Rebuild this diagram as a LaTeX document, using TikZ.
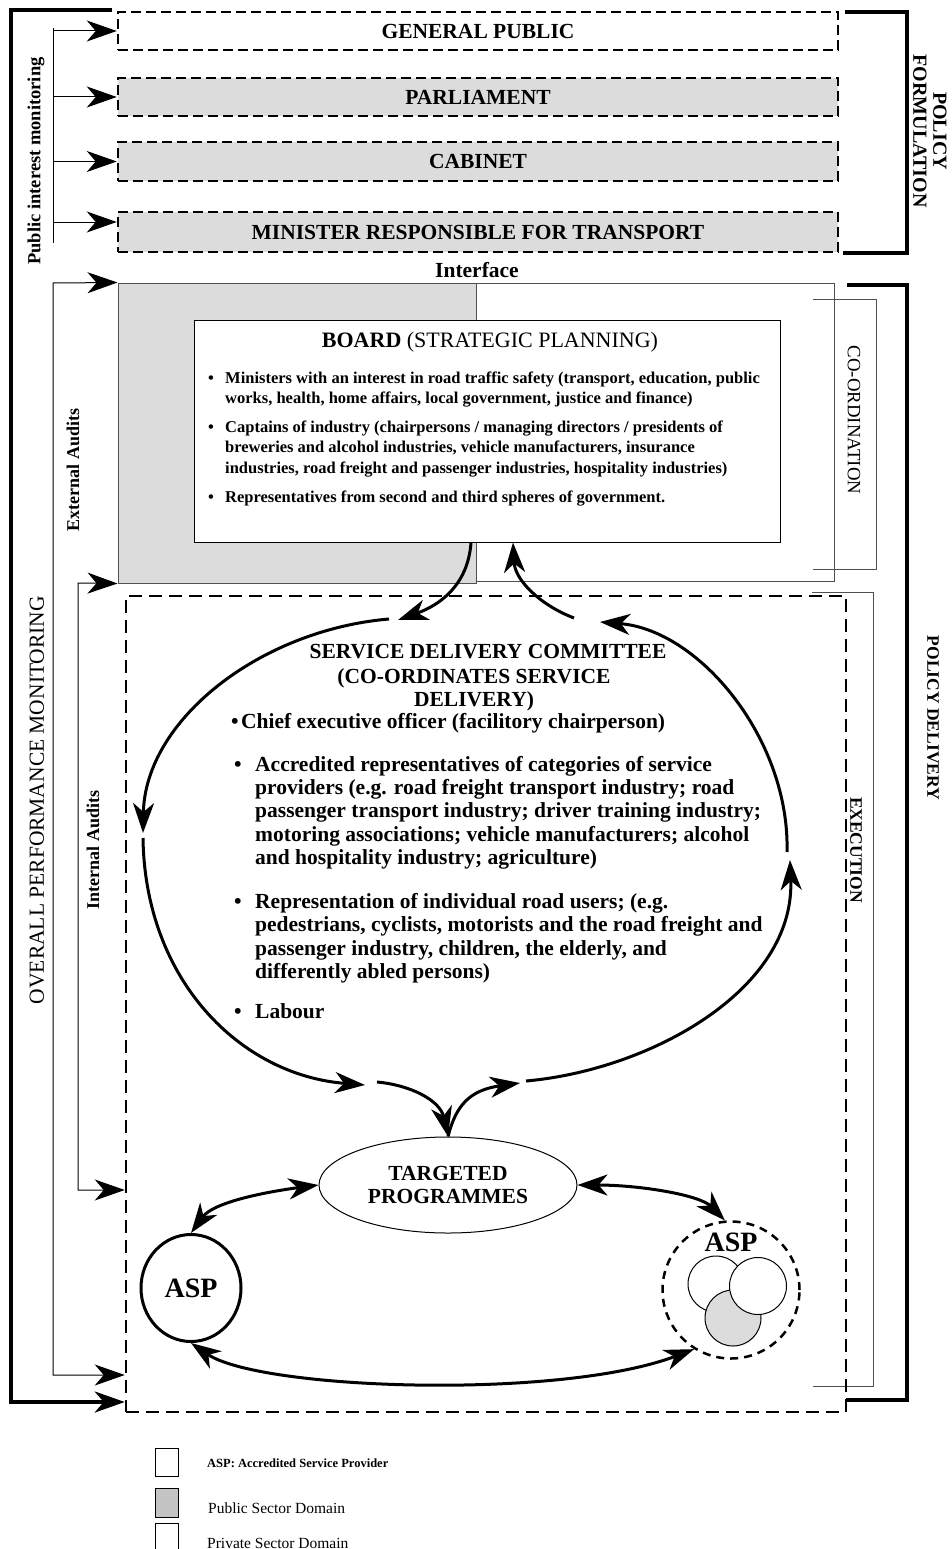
\documentclass[tikz,border=0pt]{standalone}
\usepackage{fontspec}
\setmainfont{Liberation Serif}
\usetikzlibrary{arrows.meta,shapes.geometric,calc}
\definecolor{lgray}{HTML}{DCDCDC}
\definecolor{mgray}{HTML}{C4C4C4}
\definecolor{edgegray}{HTML}{505050}
\newcommand\myfs[2]{\fontsize{#1}{#2}\selectfont}
\tikzset{
  Big/.tip={Stealth[length=30pt,width=21pt,inset=9pt]},
  thinln/.style={line width=1pt},
  heavyln/.style={line width=4pt},
  loopln/.style={line width=3pt},
  topbox/.style={draw, dash pattern=on 10pt off 5pt, line width=2.5pt, minimum width=720pt, inner sep=0pt, font=\myfs{21.5}{24}\bfseries},
  btx/.style={anchor=base west, inner sep=0pt, font=\myfs{16.5}{20}\bfseries},
  stx/.style={anchor=base west, inner sep=0pt, font=\myfs{21.5}{23}\bfseries},
  shd/.style={anchor=base, inner sep=0pt, font=\myfs{21.5}{23}\bfseries},
  vlbl/.style={inner sep=0pt, align=center},
  legbox/.style={draw, thinln, minimum width=23pt, inner sep=0pt},
}
\begin{document}
\begin{tikzpicture}[x=1pt,y=-1pt]
\useasboundingbox (0,0) rectangle (951,1549);
\fill[white] (0,0) rectangle (951,1549);

% ---------- policy formulation boxes ----------
\node[topbox, fill=white, minimum height=38pt] (gp) at (478,31) {GENERAL PUBLIC};
\node[topbox, fill=lgray, minimum height=38pt] (parl) at (478,97) {PARLIAMENT};
\node[topbox, fill=lgray, minimum height=39pt] (cab) at (478,161.5) {CABINET};
\node[topbox, fill=lgray, minimum height=40pt] (mini) at (478,232) {MINISTER RESPONSIBLE FOR TRANSPORT};

% public interest monitoring
\coordinate (pit) at (53,28);
\coordinate (pib) at (53,243);
\coordinate (minin) at ($(mini.west)+(0,-10)$);
\draw[thinln] (pit) -- (pib);
\foreach \n in {gp,parl,cab} \draw[thinln,-Big] (pit |- \n.west) -- (\n.west);
\draw[thinln,-Big] (pit |- minin) -- (minin);
\node[vlbl, rotate=90, font=\myfs{18.5}{20}\bfseries] (pim) at (36,161) {Public interest monitoring};

% policy formulation bracket
\draw[heavyln] (845,12) -- (907,12) -- (907,253) -- (843,253);
\node[vlbl, rotate=-90, font=\myfs{20}{20}\bfseries] (pf) at (930,131) {POLICY\\FORMULATION};

\node[inner sep=0pt, font=\myfs{21.5}{24}\bfseries] (iface) at (477,270) {Interface};

% ---------- strategic planning ----------
\node[draw=edgegray, thinln, fill=white, minimum width=359pt, minimum height=298pt, inner sep=0pt] (priv) at (654.5,432) {};
\node[draw=edgegray, thinln, fill=lgray, minimum width=358pt, minimum height=300pt, inner sep=0pt] (pub) at (297,433) {};
\node[draw=black, thinln, fill=white, minimum width=586pt, minimum height=222pt, inner sep=0pt] (board) at (487,431) {};

\node[anchor=base, inner sep=0pt, font=\myfs{22}{24}] (bhd) at (490,347) {\textbf{BOARD} (STRATEGIC PLANNING)};
\node[btx] (bb1) at (208,383) {•};
\node[btx] (bt1) at (225,383) {Ministers with an interest in road traffic safety (transport, education, public};
\node[btx] (bt2) at (225,403) {works, health, home affairs, local government, justice and finance)};
\node[btx] (bb2) at (208,432) {•};
\node[btx] (bt3) at (225,432) {Captains of industry (chairpersons / managing directors / presidents of};
\node[btx] (bt4) at (225,452) {breweries and alcohol industries, vehicle manufacturers, insurance};
\node[btx] (bt5) at (225,473) {industries, road freight and passenger industries, hospitality industries)};
\node[btx] (bb3) at (208,502) {•};
\node[btx] (bt6) at (225,502) {Representatives from second and third spheres of government.};

% co-ordination bracket
\draw[thinln, edgegray] (813,299) -- (876,299) -- (876,569) -- (813,569);
\node[vlbl, rotate=-90, font=\myfs{18.8}{20}] (coord) at (854,420) {CO-ORDINATION};

% policy delivery bracket
\draw[heavyln] (847,285) -- (907,285) -- (907,1400) -- (846,1400);
\node[vlbl, rotate=-90, font=\myfs{17.5}{20}\bfseries] (pdel) at (933,718) {POLICY DELIVERY};

% execution bracket
\draw[thinln, edgegray] (812,592) -- (873,592) -- (873,1386) -- (813,1386);
\node[vlbl, rotate=-90, font=\myfs{17.5}{20}\bfseries] (exec) at (856,850) {EXECUTION};

% ---------- service delivery ----------
\node[draw, dash pattern=on 13pt off 7pt, line width=2.5pt, minimum width=720pt, minimum height=816pt, inner sep=0pt] (sd) at (486,1004) {};

% left monitoring lines
\coordinate (yIA) at (0,1190);
\coordinate (yEA) at (0,1375);
\coordinate (yOP) at (0,1402);
\draw[heavyln,-Big] (112,10) -- (11,10) -- (11,1402) -- (sd.west |- yOP);
\draw[thinln,Big-Big] (pub.north west) -- (53,283) -- (53,1375) -- (sd.west |- yEA);
\draw[thinln,Big-Big] (pub.south west) -- (78,583) -- (78,1190) -- (sd.west |- yIA);
\node[vlbl, rotate=90, font=\myfs{18}{20}\bfseries] (ext) at (73,470) {External Audits};
\node[vlbl, rotate=90, font=\myfs{18}{20}\bfseries] (int) at (93,850) {Internal Audits};
\node[vlbl, rotate=90, font=\myfs{21.5}{22}] (opm) at (37,800) {OVERALL PERFORMANCE MONITORING};

% SDC text
\node[shd] (sh1) at (488,658) {SERVICE DELIVERY COMMITTEE};
\node[shd] (sh2) at (474,683) {(CO-ORDINATES SERVICE};
\node[shd] (sh3) at (474,706) {DELIVERY)};
\node[stx] (sb1) at (231,728) {•};
\node[stx] (s1) at (241,728) {Chief executive officer (facilitory chairperson)};
\node[stx] (sb2) at (234,771) {•};
\node[stx] (s2a) at (255,771) {Accredited representatives of categories of service};
\node[stx] (s2b) at (255,794) {providers (e.g. road freight transport industry; road};
\node[stx] (s2c) at (255,817) {passenger transport industry; driver training industry;};
\node[stx] (s2d) at (255,841) {motoring associations; vehicle manufacturers; alcohol};
\node[stx] (s2e) at (255,864) {and hospitality industry; agriculture)};
\node[stx] (sb3) at (234,908) {•};
\node[stx] (s3a) at (255,908) {Representation of individual road users; (e.g.};
\node[stx] (s3b) at (255,931) {pedestrians, cyclists, motorists and the road freight and};
\node[stx] (s3c) at (255,955) {passenger industry, children, the elderly, and};
\node[stx] (s3d) at (255,978) {differently abled persons)};
\node[stx] (sb4) at (234,1018) {•};
\node[stx] (s4) at (255,1018) {Labour};

% targeted programmes and ASPs
\node[ellipse, draw, thinln, fill=white, minimum width=258pt, minimum height=96pt, inner sep=0pt, align=center, font=\myfs{21.5}{23}\bfseries] (tp) at (448,1185) {TARGETED\\PROGRAMMES};
\node[ellipse, draw, line width=3pt, minimum width=100pt, minimum height=107pt, inner sep=0pt, font=\myfs{28}{30}\bfseries] (aspL) at (191,1288) {ASP};
\node[circle, draw, dash pattern=on 8pt off 6pt, line width=2.5pt, minimum size=137pt, inner sep=0pt] (aspR) at (731,1290) {};
\node[inner sep=0pt, font=\myfs{28}{30}\bfseries] (aspRt) at (731,1242) {ASP};
\node[circle, draw, thinln, fill=white, minimum size=56pt, inner sep=0pt] (v1) at (716,1284) {};
\node[circle, draw, thinln, fill=lgray, minimum size=56pt, inner sep=0pt] (v3) at (733,1318) {};
\node[circle, draw, thinln, fill=white, minimum size=57pt, inner sep=0pt] (v2) at (758,1286) {};

% loop coordinates
\coordinate (p1) at (398,620);
\coordinate (p2s) at (389,619);
\coordinate (p2) at (143,833);
\coordinate (p3s) at (143,838);
\coordinate (p3) at (365,1085);
\coordinate (p4s) at (377,1082);
\coordinate (p5) at (520,1083);
\coordinate (p6s) at (526,1081);
\coordinate (p6) at (790,860);
\coordinate (p7s) at (787,852);
\coordinate (p7) at (600,622);
\coordinate (p8s) at (574,618);

\draw[loopln,-Big] ($(board.south)+(-16,0)$) .. controls (468,585) and (440,605) .. (p1);
\draw[loopln,-Big] (p2s) .. controls (260,630) and (145,720) .. (p2);
\draw[loopln,-Big] (p3s) .. controls (145,980) and (240,1075) .. (p3);
\draw[loopln,-Big] (p4s) .. controls (410,1085) and (440,1100) .. (tp.north);
\draw[loopln,-Big] (tp.north) .. controls (456,1105) and (470,1090) .. (p5);
\draw[loopln,-Big] (p6s) .. controls (650,1070) and (795,990) .. (p6);
\draw[loopln,-Big] (p7s) .. controls (790,740) and (700,630) .. (p7);
\draw[loopln,-Big] (p8s) .. controls (540,605) and (515,580) .. ($(board.south)+(26,0)$);

\draw[loopln,Big-Big] (tp.west) .. controls (280,1190) and (215,1200) .. (aspL.north);
\draw[loopln,Big-Big] (tp.east) .. controls (640,1185) and (700,1195) .. (aspR.95);
\draw[loopln,Big-Big] (aspL.south) .. controls (260,1390) and (560,1400) .. (aspR.238);

% legend
\node[legbox, minimum height=28pt] (lg1) at (166.5,1462) {};
\node[legbox, fill=mgray, minimum height=29pt] (lg2) at (166.5,1502.5) {};
\node[legbox, minimum height=28pt] (lg3) at (166.5,1537) {};
\node[anchor=west, inner sep=0pt, font=\myfs{12.5}{14}\bfseries] (lt1) at (207,1463) {ASP: Accredited Service Provider};
\node[anchor=west, inner sep=0pt, font=\myfs{15.5}{17}] (lt2) at (208,1508) {Public Sector Domain};
\node[anchor=west, inner sep=0pt, font=\myfs{15.5}{17}] (lt3) at (207,1543) {Private Sector Domain};
\end{tikzpicture}
\end{document}
